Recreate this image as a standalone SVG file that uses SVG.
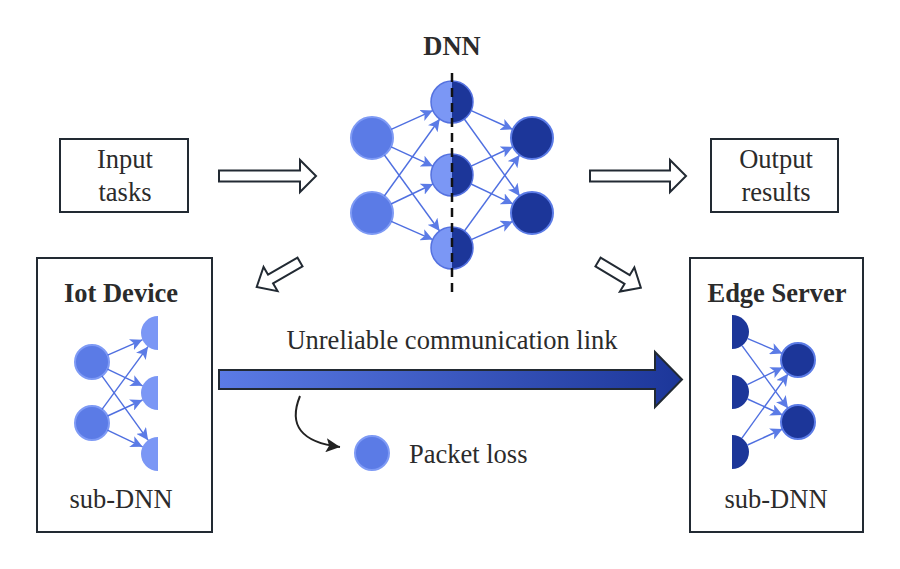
<svg xmlns="http://www.w3.org/2000/svg" width="900" height="569" viewBox="0 0 900 569" font-family="Liberation Serif, Times New Roman, serif">
<defs>
<style>
.box{fill:#fff;stroke:#222a33;stroke-width:2}
.hollow{fill:#fff;stroke:#222a33;stroke-width:2;stroke-linejoin:miter}
.e{stroke:#4f6fe0;stroke-width:1.4;fill:none}
.nl{fill:#5b7be6;stroke:#7e9af5;stroke-width:2}
.nd{fill:#1c3699;stroke:#5b7be6;stroke-width:2}
.hl{fill:#7b97f5}
.hd{fill:#1c3699}
.t{font-family:'Liberation Serif','Times New Roman',serif;font-size:26.5px;fill:#2b2b2b}
.b{font-weight:bold}
</style>
<marker id="ah" markerUnits="userSpaceOnUse" markerWidth="14" markerHeight="12" refX="12" refY="6" orient="auto">
<path d="M0,0 L12,6 L0,12 L3,6 Z" fill="#5b7be6"/>
</marker>
<marker id="bh" markerUnits="userSpaceOnUse" markerWidth="16" markerHeight="14" refX="14" refY="7" orient="auto">
<path d="M0,0 L14,7 L0,14 L3,7 Z" fill="#222"/>
</marker>
<linearGradient id="grad" x1="0" y1="0" x2="1" y2="0">
<stop offset="0" stop-color="#5b7be6"/>
<stop offset="1" stop-color="#1c3699"/>
</linearGradient>
</defs>
<rect width="900" height="569" fill="#fff"/>

<g id="input">
<rect class="box" x="60" y="139" width="128" height="73"/>
<text class="t" x="125" y="168" text-anchor="middle">Input</text>
<text class="t" x="125" y="201" text-anchor="middle">tasks</text>
</g>

<g id="output">
<rect class="box" x="711" y="139" width="127" height="73"/>
<text class="t" x="776" y="168" text-anchor="middle">Output</text>
<text class="t" x="776" y="201" text-anchor="middle">results</text>
</g>

<g id="dnn">
<text class="t b" x="452" y="55" text-anchor="middle">DNN</text>
<circle class="nl" cx="372" cy="138" r="21"/>
<circle class="nl" cx="372" cy="213" r="21"/>
<circle class="nd" cx="532" cy="138" r="21"/>
<circle class="nd" cx="532" cy="213" r="21"/>
<g>
<circle cx="452" cy="102" r="21" fill="#7b97f5"/>
<path d="M452,81 A21,21 0 0 1 452,123 Z" fill="#1c3699"/>
<circle cx="452" cy="102" r="21" fill="none" stroke="#5572e0" stroke-width="1.5"/>
<circle cx="452" cy="175" r="21" fill="#7b97f5"/>
<path d="M452,154 A21,21 0 0 1 452,196 Z" fill="#1c3699"/>
<circle cx="452" cy="175" r="21" fill="none" stroke="#5572e0" stroke-width="1.5"/>
<circle cx="452" cy="248" r="21" fill="#7b97f5"/>
<path d="M452,227 A21,21 0 0 1 452,269 Z" fill="#1c3699"/>
<circle cx="452" cy="248" r="21" fill="none" stroke="#5572e0" stroke-width="1.5"/>
</g>
<line x1="452" y1="73" x2="452" y2="293" stroke="#111" stroke-width="2.5" stroke-dasharray="9,6"/>
</g>

<g id="iot">
<rect class="box" x="37" y="258" width="175" height="274"/>
<text class="t b" x="121" y="302" text-anchor="middle">Iot Device</text>
<circle class="nl" cx="92" cy="362" r="17"/>
<circle class="nl" cx="92" cy="423" r="17"/>
<path class="hl" d="M158,316 A17,17 0 0 0 158,350 Z"/>
<path class="hl" d="M158,376 A17,17 0 0 0 158,410 Z"/>
<path class="hl" d="M158,437 A17,17 0 0 0 158,471 Z"/>
<text class="t" x="121" y="508" text-anchor="middle">sub-DNN</text>
</g>

<g id="edge">
<rect class="box" x="690" y="258" width="173" height="274"/>
<text class="t b" x="777" y="302" text-anchor="middle">Edge Server</text>
<path class="hd" d="M732,315 A17,17 0 0 1 732,349 Z"/>
<path class="hd" d="M732,375 A17,17 0 0 1 732,409 Z"/>
<path class="hd" d="M732,435 A17,17 0 0 1 732,469 Z"/>
<circle class="nd" cx="798" cy="360" r="17"/>
<circle class="nd" cx="798" cy="422" r="17"/>
<text class="t" x="776" y="508" text-anchor="middle">sub-DNN</text>
</g>

<g id="packet">
<circle class="nl" cx="372" cy="453" r="17"/>
<text class="t" x="409" y="463">Packet loss</text>
</g>

<g id="connectors">
<g marker-end="url(#ah)">
<line class="e" x1="391.2" y1="129.4" x2="432.8" y2="110.6"/>
<line class="e" x1="391.1" y1="146.8" x2="432.9" y2="166.2"/>
<line class="e" x1="384.4" y1="155.0" x2="439.6" y2="231.0"/>
<line class="e" x1="384.3" y1="196.0" x2="439.7" y2="119.0"/>
<line class="e" x1="391.0" y1="204.0" x2="433.0" y2="184.0"/>
<line class="e" x1="391.2" y1="221.4" x2="432.8" y2="239.6"/>
<line class="e" x1="471.2" y1="110.6" x2="512.8" y2="129.4"/>
<line class="e" x1="464.3" y1="119.0" x2="519.7" y2="196.0"/>
<line class="e" x1="471.1" y1="166.2" x2="512.9" y2="146.8"/>
<line class="e" x1="471.0" y1="184.0" x2="513.0" y2="204.0"/>
<line class="e" x1="464.4" y1="231.0" x2="519.6" y2="155.0"/>
<line class="e" x1="471.2" y1="239.6" x2="512.8" y2="221.4"/>
<line class="e" x1="107.6" y1="355.2" x2="142.4" y2="339.8"/>
<line class="e" x1="107.4" y1="369.2" x2="142.6" y2="385.8"/>
<line class="e" x1="101.9" y1="375.8" x2="148.1" y2="440.2"/>
<line class="e" x1="102.0" y1="409.3" x2="148.0" y2="346.7"/>
<line class="e" x1="107.5" y1="416.0" x2="142.5" y2="400.0"/>
<line class="e" x1="107.4" y1="430.2" x2="142.6" y2="446.8"/>
<line class="e" x1="747.7" y1="338.6" x2="782.3" y2="353.4"/>
<line class="e" x1="742.0" y1="345.7" x2="788.0" y2="408.3"/>
<line class="e" x1="747.3" y1="384.6" x2="782.7" y2="367.4"/>
<line class="e" x1="747.5" y1="399.0" x2="782.5" y2="415.0"/>
<line class="e" x1="741.9" y1="438.2" x2="788.1" y2="373.8"/>
<line class="e" x1="747.5" y1="445.0" x2="782.5" y2="429.0"/>
</g>
<polygon class="hollow" points="219,170.5 300,170.5 300,160 316,176 300,192 300,181.5 219,181.5"/>
<polygon class="hollow" points="590,170.5 670,170.5 670,160 686,176 670,192 670,181.5 590,181.5"/>
<polygon class="hollow" transform="translate(300,262) rotate(150)" points="0,-5 34,-5 34,-14 50,0 34,14 34,5 0,5"/>
<polygon class="hollow" transform="translate(598,262) rotate(31)" points="0,-5 34,-5 34,-14 50,0 34,14 34,5 0,5"/>
<polygon points="219,370 655,370 655,352 682,379.5 655,407 655,389 219,389" fill="url(#grad)" stroke="#222a33" stroke-width="2"/>
<text class="t" x="452" y="349" text-anchor="middle">Unreliable communication link</text>
<path d="M300,396 Q282,440 340,447" fill="none" stroke="#222" stroke-width="2" marker-end="url(#bh)"/>
</g>
</svg>
